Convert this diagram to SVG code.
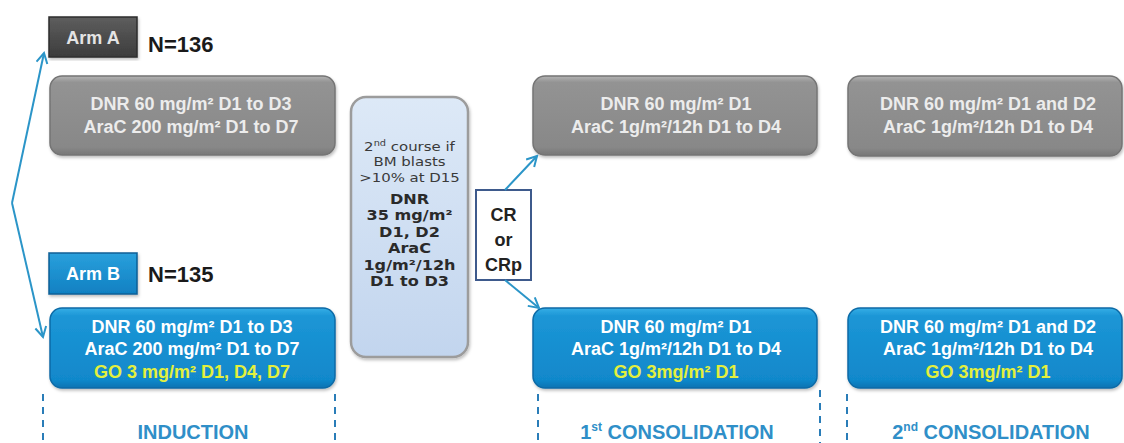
<svg xmlns="http://www.w3.org/2000/svg" width="1124" height="443" viewBox="0 0 1124 443">
  <defs>
    <linearGradient id="gGrey" x1="0" y1="0" x2="0" y2="1">
      <stop offset="0" stop-color="#b4b4b4"/>
      <stop offset="0.08" stop-color="#939393"/>
      <stop offset="0.9" stop-color="#888888"/>
      <stop offset="1" stop-color="#777777"/>
    </linearGradient>
    <linearGradient id="gBlue" x1="0" y1="0" x2="0" y2="1">
      <stop offset="0" stop-color="#38aee6"/>
      <stop offset="0.1" stop-color="#1c96d6"/>
      <stop offset="0.9" stop-color="#1188cb"/>
      <stop offset="1" stop-color="#0b73b2"/>
    </linearGradient>
    <linearGradient id="gDark" x1="0" y1="0" x2="0" y2="1">
      <stop offset="0" stop-color="#5e5e5e"/>
      <stop offset="1" stop-color="#3c3c3c"/>
    </linearGradient>
    <linearGradient id="gArmB" x1="0" y1="0" x2="0" y2="1">
      <stop offset="0" stop-color="#2aa0dc"/>
      <stop offset="1" stop-color="#1080c2"/>
    </linearGradient>
    <linearGradient id="gPale" x1="0" y1="0" x2="0" y2="1">
      <stop offset="0" stop-color="#dde9f7"/>
      <stop offset="1" stop-color="#c2d5ee"/>
    </linearGradient>
    <filter id="shadow" x="-5%" y="-5%" width="110%" height="115%">
      <feDropShadow dx="1" dy="2" stdDeviation="1.5" flood-color="#000" flood-opacity="0.25"/>
    </filter>
    <marker id="arrow" markerUnits="userSpaceOnUse" markerWidth="14" markerHeight="14" refX="11" refY="6" orient="auto">
      <path d="M1,0.5 L11,6 L1,11.5" fill="none" stroke="#2b95c8" stroke-width="2"/>
    </marker>
  </defs>
  <style>
    .grey { fill: url(#gGrey); stroke: #747474; stroke-width: 1.5; }
    .blue { fill: url(#gBlue); stroke: #0a6aa6; stroke-width: 1.5; }
    .box { font-family: "Liberation Sans", Arial, sans-serif; font-weight: bold; font-size: 18px; text-anchor: middle; }
    .gtxt { fill: #ececec; }
    .btxt { fill: #ffffff; }
    .go { fill: #e4f03c; }
    .arm { font-family: "Liberation Sans", Arial, sans-serif; font-weight: bold; font-size: 18px; text-anchor: middle; }
    .n { font-family: "Liberation Sans", Arial, sans-serif; font-weight: bold; font-size: 22px; fill: #1a1a1a; }
    .phase { font-family: "Liberation Sans", Arial, sans-serif; font-weight: bold; font-size: 20px; fill: #2f8fc8; text-anchor: middle; }
    .mid { font-family: "DejaVu Sans", sans-serif; font-size: 13px; fill: #3a3a3a; text-anchor: middle; }
    .midb { font-family: "DejaVu Sans", sans-serif; font-weight: bold; font-size: 14px; fill: #2a2a2a; text-anchor: middle; }
    .cr { font-family: "Liberation Sans", Arial, sans-serif; font-weight: bold; font-size: 18px; fill: #222; text-anchor: middle; }
    .dash { stroke: #2a7db8; stroke-width: 2; stroke-dasharray: 7 6; fill: none; }
    .conn { stroke: #2b95c8; stroke-width: 2; fill: none; marker-end: url(#arrow); }
  </style>

  <rect width="1124" height="443" fill="#ffffff"/>

  <!-- Arm labels -->
  <g id="arm-a">
    <rect x="49" y="17" width="88" height="40" fill="url(#gDark)" stroke="#2c2c2c" stroke-width="1.5" filter="url(#shadow)"/>
    <text class="arm" x="93" y="44" fill="#e4e4e4">Arm A</text>
    <text class="n" x="148" y="52">N=136</text>
  </g>
  <g id="arm-b">
    <rect x="49" y="253" width="88" height="41" fill="url(#gArmB)" stroke="#0b5f96" stroke-width="1.5" filter="url(#shadow)"/>
    <text class="arm" x="93" y="280" fill="#ffffff">Arm B</text>
    <text class="n" x="148" y="282">N=135</text>
  </g>

  <!-- Induction, arm A -->
  <g id="induction-a">
    <rect class="grey" x="50" y="76" width="285" height="79" rx="12" filter="url(#shadow)"/>
    <text class="box gtxt" x="191" y="110">DNR 60 mg/m² D1 to D3</text>
    <text class="box gtxt" x="191" y="133">AraC 200 mg/m² D1 to D7</text>
  </g>

  <!-- Induction, arm B -->
  <g id="induction-b">
    <rect class="blue" x="50" y="308" width="285" height="80" rx="12" filter="url(#shadow)"/>
    <text class="box btxt" x="192" y="333">DNR 60 mg/m² D1 to D3</text>
    <text class="box btxt" x="192" y="355">AraC 200 mg/m² D1 to D7</text>
    <text class="box go" x="192" y="378">GO 3 mg/m² D1, D4, D7</text>
  </g>

  <!-- Second induction course (text slightly widened) -->
  <g id="second-course">
    <rect x="351" y="97" width="117" height="260" rx="15" fill="url(#gPale)" stroke="#9c9c9c" stroke-width="2.5" filter="url(#shadow)"/>
    <g transform="translate(409.5 0) scale(1.15 1)">
      <text class="mid" x="0" y="151">2<tspan font-size="8.5" dy="-5">nd</tspan><tspan dy="5"> course if</tspan></text>
      <text class="mid" x="0" y="166.5">BM blasts</text>
      <text class="mid" x="0" y="182">&gt;10% at D15</text>
      <text class="midb" x="0" y="204">DNR</text>
      <text class="midb" x="0" y="220.5">35 mg/m²</text>
      <text class="midb" x="0" y="237">D1, D2</text>
      <text class="midb" x="0" y="253.5">AraC</text>
      <text class="midb" x="0" y="270">1g/m²/12h</text>
      <text class="midb" x="0" y="286.5">D1 to D3</text>
    </g>
  </g>

  <!-- Response gate -->
  <g id="response">
    <rect x="476" y="190" width="55" height="90" fill="#ffffff" stroke="#3e5a8c" stroke-width="2"/>
    <text class="cr" x="503.5" y="221">CR</text>
    <text class="cr" x="503.5" y="246">or</text>
    <text class="cr" x="503.5" y="271">CRp</text>
  </g>

  <!-- 1st consolidation -->
  <g id="consolidation1-a">
    <rect class="grey" x="533" y="76" width="284" height="79" rx="12" filter="url(#shadow)"/>
    <text class="box gtxt" x="676" y="110">DNR 60 mg/m² D1</text>
    <text class="box gtxt" x="676" y="133">AraC 1g/m²/12h D1 to D4</text>
  </g>
  <g id="consolidation1-b">
    <rect class="blue" x="533" y="308" width="284" height="80" rx="12" filter="url(#shadow)"/>
    <text class="box btxt" x="676" y="333">DNR 60 mg/m² D1</text>
    <text class="box btxt" x="676" y="355">AraC 1g/m²/12h D1 to D4</text>
    <text class="box go" x="676" y="378">GO 3mg/m² D1</text>
  </g>

  <!-- 2nd consolidation -->
  <g id="consolidation2-a">
    <rect class="grey" x="848" y="76" width="274" height="80" rx="12" filter="url(#shadow)"/>
    <text class="box gtxt" x="988" y="110">DNR 60 mg/m² D1 and D2</text>
    <text class="box gtxt" x="988" y="133">AraC 1g/m²/12h D1 to D4</text>
  </g>
  <g id="consolidation2-b">
    <rect class="blue" x="848" y="308" width="274" height="80" rx="12" filter="url(#shadow)"/>
    <text class="box btxt" x="988" y="333">DNR 60 mg/m² D1 and D2</text>
    <text class="box btxt" x="988" y="355">AraC 1g/m²/12h D1 to D4</text>
    <text class="box go" x="988" y="378">GO 3mg/m² D1</text>
  </g>

  <!-- Phase separators and labels -->
  <g id="phases">
    <line class="dash" x1="43" y1="394" x2="43" y2="443"/>
    <line class="dash" x1="335" y1="394" x2="335" y2="443"/>
    <line class="dash" x1="538" y1="394" x2="538" y2="443"/>
    <line class="dash" x1="820" y1="390" x2="820" y2="443"/>
    <line class="dash" x1="847" y1="394" x2="847" y2="443"/>
    <text class="phase" x="193" y="439">INDUCTION</text>
    <text class="phase" x="677" y="439">1<tspan font-size="12" dy="-8">st</tspan><tspan dy="8"> CONSOLIDATION</tspan></text>
    <text class="phase" x="991" y="439">2<tspan font-size="12" dy="-8">nd</tspan><tspan dy="8"> CONSOLIDATION</tspan></text>
  </g>

  <!-- Connectors -->
  <g id="connectors">
    <line class="conn" x1="12" y1="203" x2="44" y2="53"/>
    <line class="conn" x1="12" y1="203" x2="43" y2="337"/>
    <line class="conn" x1="505" y1="190" x2="537" y2="156"/>
    <line class="conn" x1="505" y1="280" x2="539" y2="308"/>
  </g>
</svg>
